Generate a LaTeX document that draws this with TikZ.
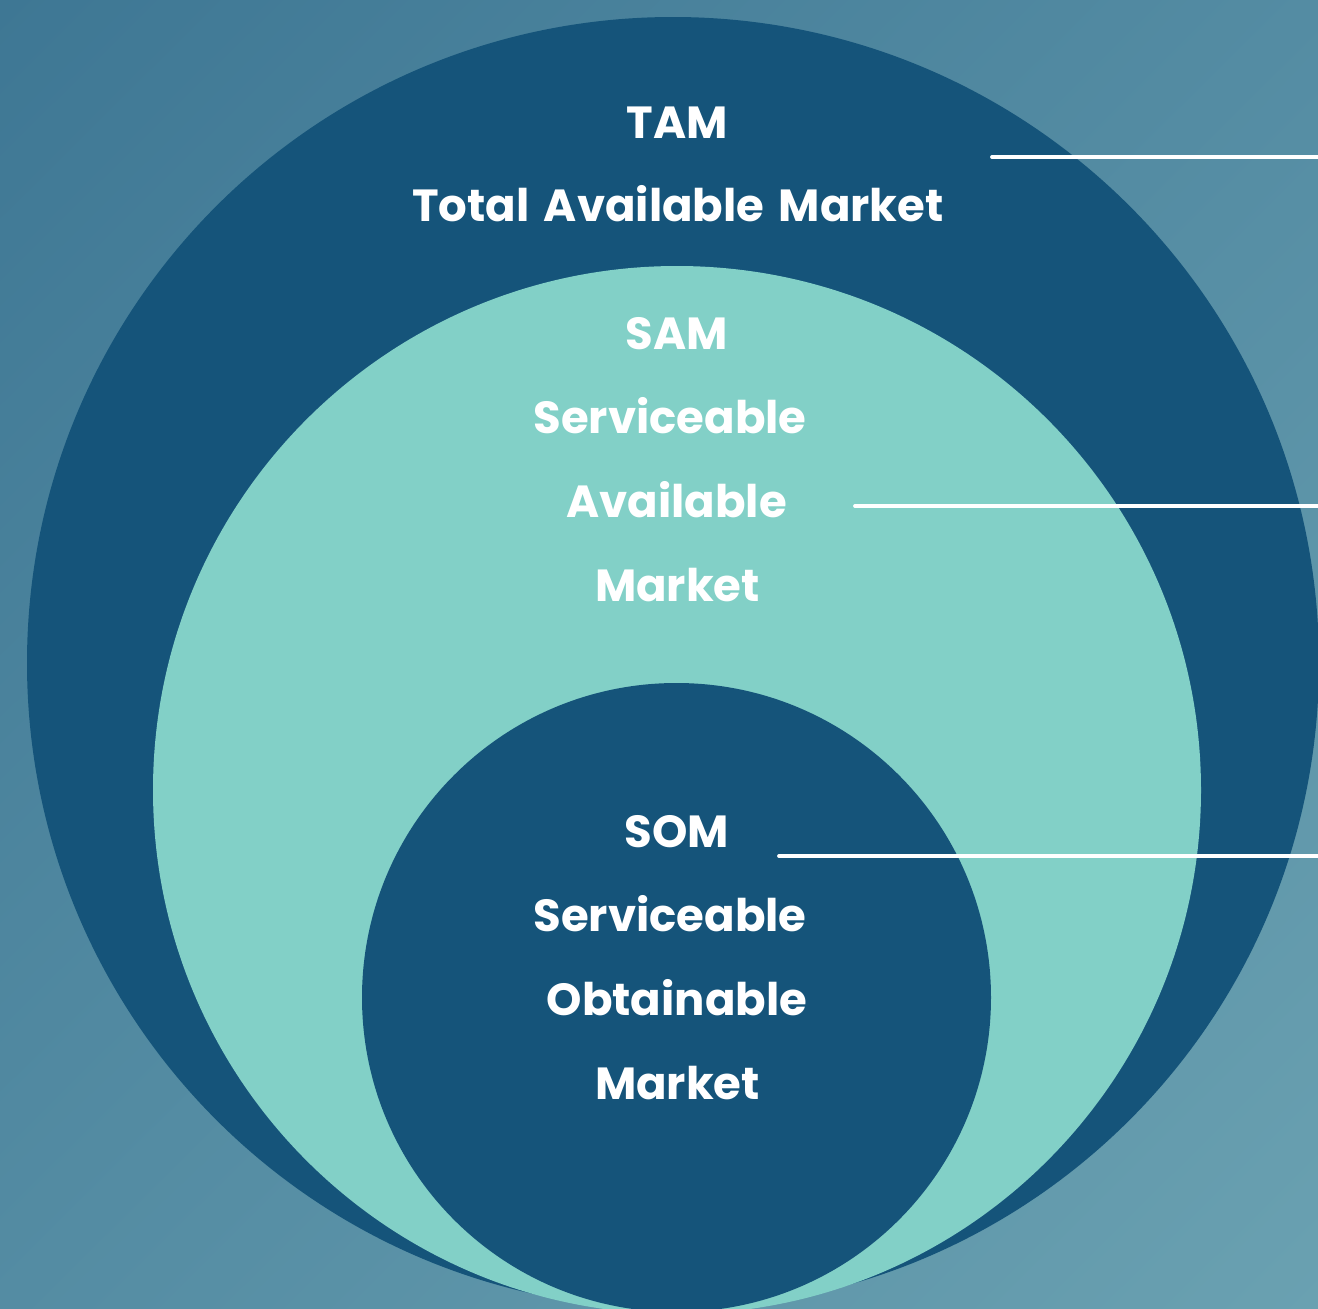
\documentclass[tikz,border=0pt]{standalone}
\usepackage{fontspec}
\setmainfont{Poppins}[WordSpace=1.5]
\usetikzlibrary{shadings}
\definecolor{bgA}{HTML}{3E7794}
\definecolor{bgB}{HTML}{6AA1B1}
\definecolor{bgM}{HTML}{548CA3}
\definecolor{deepblue}{HTML}{15547A}
\definecolor{mint}{HTML}{82D0C7}
\tikzset{
  ring/.style={circle, inner sep=0pt, outer sep=0pt, draw=none},
  lbl/.style={text=white, font=\fontsize{45}{45}\selectfont\bfseries, anchor=base, inner sep=0pt},
  leader/.style={draw=white, line width=3.8pt, line cap=round}
}
\begin{document}
\begin{tikzpicture}[x=1pt,y=-1pt]
\useasboundingbox (0,0) rectangle (1318,1309);
\clip (0,0) rectangle (1318,1309);
\shade[upper left=bgA, lower right=bgB, upper right=bgM, lower left=bgM] (0,0) rectangle (1318,1309);
\node[ring, fill=deepblue, minimum size=1292pt] (tam) at (673,663) {};
\node[ring, fill=mint, minimum size=1048pt] (sam) at (677,790) {};
\node[ring, fill=deepblue, minimum size=629pt] (som) at (676.5,997.5) {};
% labels
\node[lbl] (tam1) at (677,138) {TAM};
\node[lbl] (tam2) at (678,221) {Total Available Market};
\node[lbl] (sam1) at (677,349) {SAM};
\node[lbl] (sam2) at (670,433) {Serviceable};
\node[lbl] (sam3) at (676.5,517) {Available};
\node[lbl] (sam4) at (677.5,601) {Market};
\node[lbl] (som1) at (677,847) {SOM};
\node[lbl] (som2) at (670,931) {Serviceable};
\node[lbl] (som3) at (677,1015) {Obtainable};
\node[lbl] (som4) at (677.5,1099) {Market};
% leader lines
\coordinate (tamL) at (992,157);
\coordinate (tamR) at (1322,157);
\coordinate (samL) at (855,506);
\coordinate (samR) at (1322,506);
\coordinate (somL) at (779,856);
\coordinate (somR) at (1322,856);
\draw[leader] (tamL) -- (tamR);
\draw[leader] (samL) -- (samR);
\draw[leader] (somL) -- (somR);
\end{tikzpicture}
\end{document}
